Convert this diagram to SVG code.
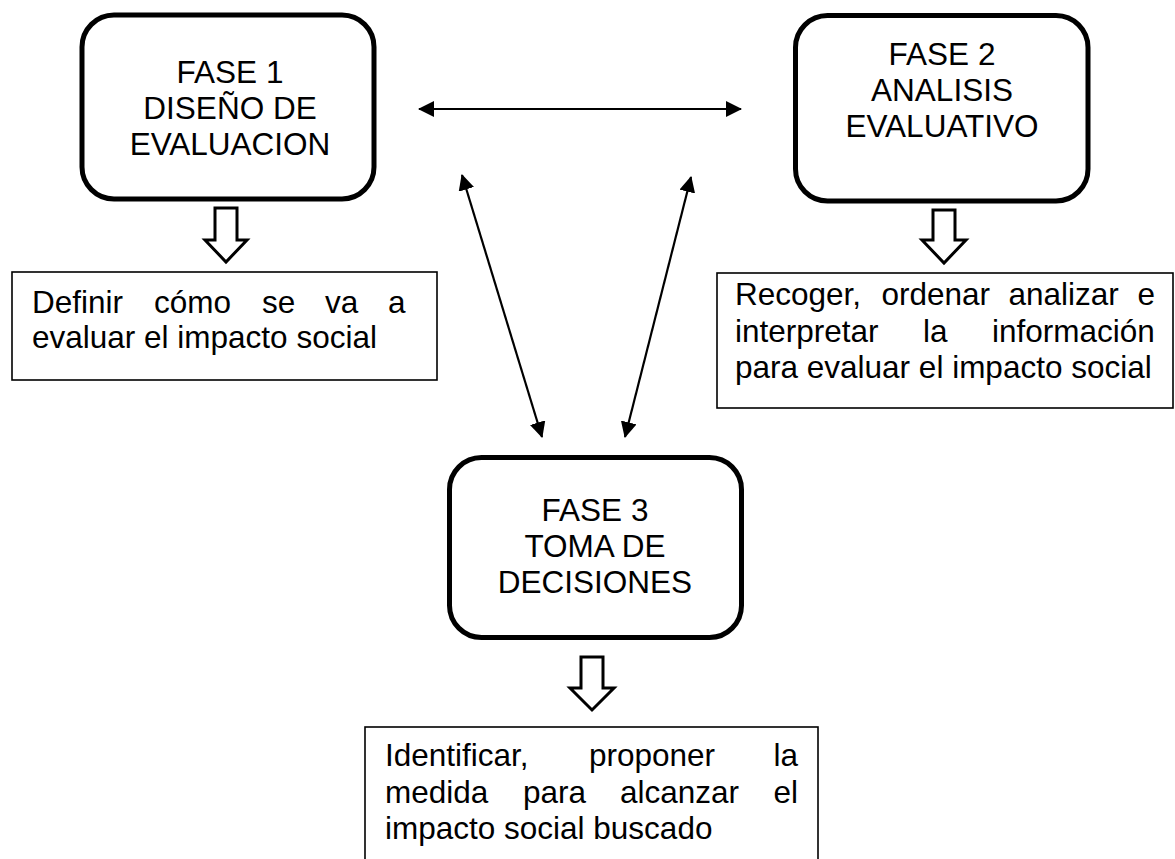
<svg xmlns="http://www.w3.org/2000/svg" width="1175" height="859" viewBox="0 0 1175 859">
<style>
  text { font-family: "Liberation Sans", Arial, sans-serif; font-size: 31.5px; fill: #000; }
  .title { text-anchor: middle; }
  .phase { fill: #fff; stroke: #000; stroke-width: 5; }
  .note { fill: #fff; stroke: #000; stroke-width: 1.6; }
  .block { fill: #fff; stroke: #000; stroke-width: 3; stroke-linejoin: miter; }
  .conn { stroke: #000; stroke-width: 2.2; fill: none; marker-start: url(#ah); marker-end: url(#ah); }
</style>
<defs>
  <marker id="ah" viewBox="0 0 16 16" refX="15" refY="8" markerWidth="16" markerHeight="16" markerUnits="userSpaceOnUse" orient="auto-start-reverse">
    <path d="M0,0 L16,8 L0,16 Z" fill="#000"/>
  </marker>
</defs>
<rect width="1175" height="859" fill="#fff"/>

<g id="connectors">
  <line class="conn" x1="419" y1="109" x2="741" y2="109"/>
  <line class="conn" x1="462" y1="175" x2="542" y2="437"/>
  <line class="conn" x1="691" y1="177" x2="625" y2="437"/>
</g>

<g id="fase1">
  <rect class="phase" x="82" y="15" width="292" height="184" rx="32"/>
  <text class="title" x="230" y="83">FASE 1</text>
  <text class="title" x="230" y="119">DISEÑO DE</text>
  <text class="title" x="230" y="155">EVALUACION</text>
</g>

<g id="fase2">
  <rect class="phase" x="795.5" y="15.5" width="292.5" height="185.5" rx="32"/>
  <text class="title" x="942" y="65">FASE 2</text>
  <text class="title" x="942" y="101">ANALISIS</text>
  <text class="title" x="942" y="137">EVALUATIVO</text>
</g>

<g id="fase3">
  <rect class="phase" x="449.5" y="457.5" width="292" height="180" rx="32"/>
  <text class="title" x="595" y="521">FASE 3</text>
  <text class="title" x="595" y="557">TOMA DE</text>
  <text class="title" x="595" y="593">DECISIONES</text>
</g>

<g id="arrow1">
  <path class="block" d="M215,208 L237,208 L237,240 L247,240 L226,262 L205,240 L215,240 Z"/>
</g>
<g id="arrow2">
  <path class="block" d="M933,210 L955,210 L955,240 L966,240 L944,263 L922,240 L933,240 Z"/>
</g>
<g id="arrow3">
  <path class="block" d="M581,657 L603,657 L603,688 L614,688 L592,710 L570,688 L581,688 Z"/>
</g>

<g id="nota1">
  <rect class="note" x="12" y="272" width="425" height="108"/>
  <text y="313"><tspan x="32">Definir</tspan><tspan x="154">cómo</tspan><tspan x="262">se</tspan><tspan x="325">va</tspan><tspan x="388">a</tspan></text>
  <text x="32" y="348">evaluar el impacto social</text>
</g>

<g id="nota2">
  <rect class="note" x="717" y="273" width="456" height="135"/>
  <text y="305"><tspan x="735">Recoger,</tspan><tspan x="881.5">ordenar</tspan><tspan x="1008.5">analizar</tspan><tspan x="1137.5">e</tspan></text>
  <text y="342"><tspan x="735">interpretar</tspan><tspan x="923">la</tspan><tspan x="992">información</tspan></text>
  <text x="735" y="378">para evaluar el impacto social</text>
</g>

<g id="nota3">
  <rect class="note" x="365" y="727" width="453" height="150"/>
  <text y="766"><tspan x="385">Identificar,</tspan><tspan x="589">proponer</tspan><tspan x="773.5">la</tspan></text>
  <text y="803"><tspan x="385">medida</tspan><tspan x="523">para</tspan><tspan x="620">alcanzar</tspan><tspan x="773.5">el</tspan></text>
  <text x="385" y="839">impacto social buscado</text>
</g>
</svg>
